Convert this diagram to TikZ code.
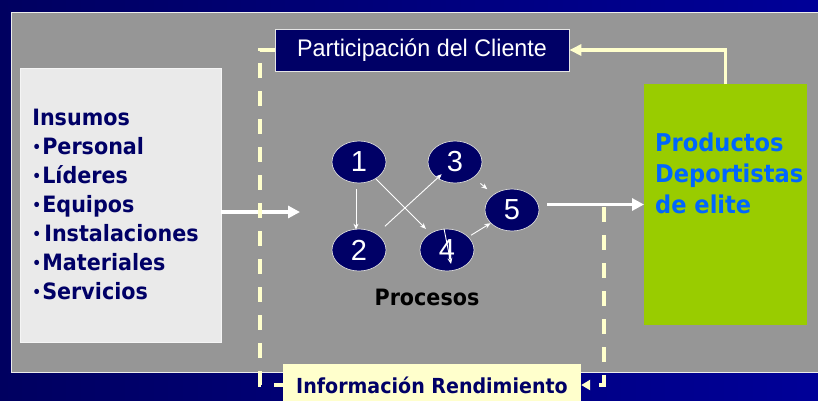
\documentclass[tikz,border=0pt]{standalone}
\usepackage{fontspec}
\setmainfont{DejaVu Sans}
\newfontfamily\tahb[FakeStretch=0.92]{DejaVu Sans}
\newfontfamily\arialf{Liberation Sans}
\newfontfamily\arialn[FakeStretch=0.97]{Liberation Sans}
\usetikzlibrary{arrows.meta,shapes.geometric,calc}
\newcommand\mybul{\makebox[10pt][l]{\raisebox{2.8pt}{\fontsize{15}{15}\selectfont •}}}
\definecolor{navy}{RGB}{0,0,102}
\definecolor{bgl}{RGB}{0,0,96}
\definecolor{bgr}{RGB}{0,0,152}
\definecolor{panel}{RGB}{150,150,150}
\definecolor{cream}{RGB}{255,255,204}
\definecolor{lgray}{RGB}{234,234,234}
\definecolor{lime}{RGB}{153,204,0}
\definecolor{pblue}{RGB}{0,102,255}
\tikzset{
  mainarrow/.style={draw=white, line width=3.5pt, -{Triangle[length=12pt,width=12pt]}},
  fbline/.style={draw=cream, line width=3.5pt},
  dashline/.style={draw=cream, line width=3.5pt, dash pattern=on 15pt off 13pt},
  proc/.style={ellipse, fill=navy, draw=white!85!black, line width=0.7pt,
    minimum width=54pt, minimum height=42pt, inner sep=0pt, text=white,
    font=\arialf\fontsize{29}{29}\selectfont},
  flow/.style={draw=white, line width=0.9pt, -{Stealth[length=6pt,width=5pt]}},
  inbox/.style={fill=lgray, draw=white!92!gray, line width=0.6pt,
    minimum width=201pt, minimum height=274pt, text width=176pt,
    inner xsep=12.5pt, inner ysep=0pt, align=left, text=navy,
    font=\tahb\bfseries\fontsize{22.5}{29}\selectfont},
  partbox/.style={fill=navy, draw=white!80!gray, line width=0.7pt,
    minimum width=294pt, minimum height=42pt, inner sep=0pt, text=white,
    font=\arialn\fontsize{24}{24}\selectfont},
  infobox/.style={fill=cream, minimum width=298pt, minimum height=42pt,
    inner sep=0pt, text=navy, font=\tahb\bfseries\fontsize{20.7}{24}\selectfont},
  greenbox/.style={fill=lime, minimum width=163pt, minimum height=241pt, inner sep=0pt},
  prodtext/.style={inner sep=0pt, align=left, text=pblue,
    font=\tahb\bfseries\fontsize{24.5}{31}\selectfont},
  proclabel/.style={inner sep=0pt, text=black, font=\tahb\bfseries\fontsize{22.5}{24}\selectfont}
}
\begin{document}
\begin{tikzpicture}[x=1pt,y=-1pt]
\useasboundingbox (0,0) rectangle (818,400);
\shade[left color=bgl, right color=bgr] (0,0) rectangle (818,400);
\fill[panel] (11,12) rectangle (818,372);
\draw[white!85!gray, line width=1pt] (818,12) -- (11,12) -- (11,372) -- (818,372);

% boxes
\node[inbox, anchor=north west] (ins) at (19.5,67.5)
  {Insumos\\\mybul Personal\\\mybul Líderes\\\mybul Equipos\\\mybul\hspace{2pt}Instalaciones\\\mybul Materiales\\\mybul Servicios};
\node[partbox] (part) at (422,50) {Participación del Cliente};
\node[greenbox, anchor=north west] (prod) at (644,84) {};
\node[prodtext, anchor=north west] (prodtxt) at (655,132.5) {Productos\\Deportistas\\de elite};
\node[infobox] (info) at (432,385) {Información Rendimiento};

% processes
\node[proc] (p1) at (359,162) {1};
\node[proc] (p2) at (359,250) {2};
\node[proc] (p3) at (455,162) {3};
\node[proc] (p4) at (447,250) {4};
\node[proc] (p5) at (512,210) {5};
\node[proclabel] (plabel) at (427,297) {Procesos};

\draw[flow] ($(p1.south)+(-3,6)$) -- ($(p2.north)+(-3,1)$);
\draw[flow, shorten >=6pt] (p1) -- (p4);
\draw[flow, shorten <=11pt, shorten >=-6pt] (p2) -- (p3);
\draw[flow, shorten <=9pt, shorten >=8pt] (p3) -- (p5);
\draw[flow, shorten <=3pt] (p4) -- (p5);
\draw[flow] ($(p4.north)+(-3,0)$) -- ($(p4.center)+(4,14)$);

% main arrows
\coordinate (pin) at (300,212);
\coordinate (pout) at (547,204.5);
\draw[mainarrow] (ins.east |- pin) -- (pin);
\draw[mainarrow] (pout) -- (prod.west |- pout);

% feedback
\draw[fbline, -{Triangle[length=12pt,width=11pt]}] (prod.north) |- (part.east);
\coordinate (lc) at (260,385);
\draw[dashline] (part.west) -| (lc) -- (info.west);
\coordinate (rtop) at (604,207);
\draw[dashline, -{Triangle[length=9pt,width=10pt]}] (rtop) |- (info.east);
\end{tikzpicture}
\end{document}
